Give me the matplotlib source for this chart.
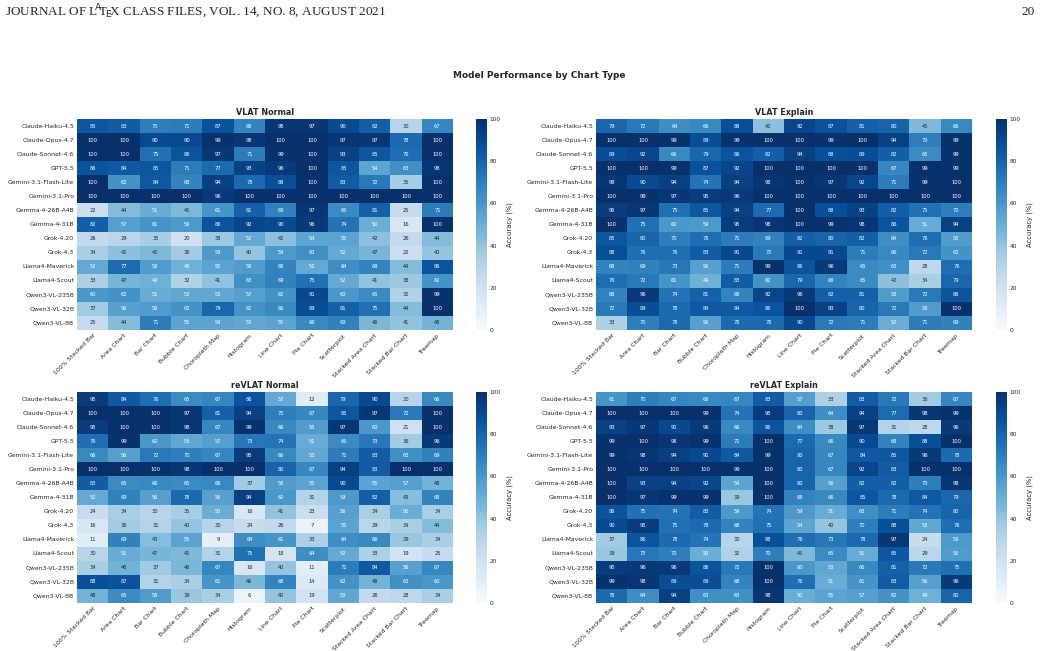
import numpy as np
import pandas as pd
import matplotlib
matplotlib.use("Agg")
import matplotlib.pyplot as plt
import seaborn as sns

models = ["Claude-Haiku-4.5", "Claude-Opus-4.7", "Claude-Sonnet-4.6", "GPT-5.5",
          "Gemini-3.1-Flash-Lite", "Gemini-3.1-Pro", "Gemma-4-26B-A4B", "Gemma-4-31B",
          "Grok-4.20", "Grok-4.3", "Llama4-Maverick", "Llama4-Scout",
          "Qwen3-VL-235B", "Qwen3-VL-32B", "Qwen3-VL-8B"]
chart_types = ["100% Stacked Bar", "Area Chart", "Bar Chart", "Bubble Chart",
               "Choropleth Map", "Histogram", "Line Chart", "Pie Chart",
               "Scatterplot", "Stacked Area Chart", "Stacked Bar Chart", "Treemap"]

vlat_normal = [
    [85, 83, 70, 71, 87, 68, 98, 97, 90, 82, 30, 67],
    [100, 100, 90, 90, 99, 98, 100, 100, 97, 97, 78, 100],
    [100, 100, 75, 86, 97, 71, 99, 100, 93, 85, 76, 100],
    [86, 84, 85, 71, 77, 93, 96, 100, 85, 54, 63, 98],
    [100, 62, 84, 68, 94, 78, 88, 100, 83, 72, 35, 100],
    [100, 100, 100, 100, 96, 100, 100, 100, 100, 100, 100, 100],
    [22, 44, 51, 45, 61, 81, 69, 97, 65, 81, 25, 71],
    [82, 57, 61, 59, 86, 92, 90, 96, 74, 50, 16, 100],
    [26, 29, 35, 20, 38, 52, 42, 54, 55, 42, 26, 44],
    [34, 42, 45, 36, 59, 40, 59, 63, 52, 47, 22, 40],
    [52, 77, 58, 49, 55, 58, 68, 52, 64, 68, 44, 86],
    [33, 47, 49, 32, 41, 63, 69, 75, 52, 41, 38, 62],
    [60, 62, 51, 53, 53, 57, 62, 91, 60, 65, 32, 99],
    [37, 56, 58, 62, 79, 62, 66, 89, 81, 75, 44, 100],
    [25, 44, 71, 55, 54, 53, 55, 66, 69, 46, 41, 48],
]
vlat_explain = [
    [79, 72, 64, 66, 88, 42, 92, 87, 81, 80, 45, 66],
    [100, 100, 99, 89, 99, 100, 100, 99, 100, 94, 70, 99],
    [89, 92, 66, 79, 86, 82, 94, 88, 89, 82, 65, 99],
    [100, 100, 99, 87, 92, 100, 100, 100, 100, 67, 99, 99],
    [98, 90, 94, 74, 94, 98, 100, 97, 92, 71, 99, 100],
    [100, 99, 97, 95, 96, 100, 100, 100, 100, 100, 100, 100],
    [95, 97, 75, 85, 94, 77, 100, 88, 93, 82, 75, 70],
    [100, 75, 60, 59, 95, 98, 100, 99, 98, 86, 51, 94],
    [85, 80, 70, 76, 71, 69, 82, 80, 82, 64, 76, 58],
    [88, 76, 76, 83, 91, 72, 91, 91, 71, 66, 72, 62],
    [68, 69, 73, 56, 71, 99, 86, 96, 65, 63, 28, 76],
    [76, 72, 61, 49, 83, 62, 79, 68, 65, 42, 34, 79],
    [68, 96, 74, 81, 68, 92, 96, 82, 81, 58, 72, 86],
    [72, 89, 78, 84, 84, 86, 100, 93, 80, 72, 58, 100],
    [33, 70, 78, 56, 78, 78, 90, 72, 71, 50, 71, 69],
]
revlat_normal = [
    [95, 84, 76, 65, 67, 86, 52, 12, 79, 90, 30, 66],
    [100, 100, 100, 97, 81, 94, 70, 67, 85, 97, 72, 100],
    [95, 100, 100, 98, 67, 99, 66, 58, 97, 60, 21, 100],
    [76, 99, 60, 53, 57, 73, 74, 51, 65, 73, 36, 96],
    [66, 56, 72, 70, 67, 95, 66, 53, 71, 83, 63, 69],
    [100, 100, 100, 98, 100, 100, 80, 67, 94, 83, 100, 100],
    [83, 65, 66, 65, 66, 37, 58, 55, 90, 55, 57, 48],
    [52, 69, 56, 78, 56, 94, 60, 31, 59, 82, 43, 68],
    [24, 34, 30, 35, 50, 16, 41, 23, 56, 34, 50, 34],
    [16, 36, 31, 40, 30, 24, 26, 7, 55, 29, 34, 44],
    [11, 69, 43, 55, 9, 64, 61, 33, 64, 66, 39, 34],
    [30, 51, 47, 45, 31, 75, 18, 64, 52, 33, 19, 25],
    [34, 48, 37, 46, 67, 16, 40, 11, 71, 84, 56, 67],
    [88, 87, 31, 34, 61, 46, 68, 14, 62, 48, 63, 60],
    [48, 65, 58, 39, 34, 6, 40, 19, 53, 26, 28, 34],
]
revlat_explain = [
    [61, 70, 67, 66, 67, 83, 57, 33, 83, 72, 36, 67],
    [100, 100, 100, 99, 74, 95, 80, 64, 94, 77, 98, 99],
    [93, 97, 91, 96, 66, 86, 64, 38, 97, 31, 28, 96],
    [99, 100, 98, 99, 71, 100, 77, 66, 90, 68, 88, 100],
    [99, 98, 94, 91, 84, 99, 80, 67, 84, 85, 96, 78],
    [100, 100, 100, 100, 99, 100, 80, 67, 92, 83, 100, 100],
    [100, 93, 94, 92, 54, 100, 80, 56, 82, 82, 70, 98],
    [100, 97, 99, 99, 39, 100, 68, 66, 85, 78, 84, 79],
    [86, 75, 74, 83, 59, 74, 59, 51, 63, 71, 74, 80],
    [90, 95, 75, 78, 68, 75, 54, 40, 70, 88, 53, 76],
    [37, 86, 78, 74, 30, 88, 76, 73, 78, 97, 24, 59],
    [39, 73, 70, 50, 32, 70, 45, 65, 51, 85, 29, 58],
    [95, 96, 96, 86, 72, 100, 60, 53, 66, 81, 72, 75],
    [99, 98, 89, 89, 68, 100, 76, 51, 61, 83, 56, 96],
    [78, 64, 94, 63, 63, 98, 50, 55, 57, 62, 49, 80],
]

panel_titles = ["VLAT Normal", "VLAT Explain", "reVLAT Normal", "reVLAT Explain"]
panel_data = [vlat_normal, vlat_explain, revlat_normal, revlat_explain]

sns.set_theme(style="white")
plt.rcParams["font.family"] = ["DejaVu Sans"]

W, H = 1041, 651
fig = plt.figure(figsize=(W / 100, H / 100), dpi=100)

def box(x0, y0, x1, y1):
    return [x0 / W, 1 - y1 / H, (x1 - x0) / W, (y1 - y0) / H]

hm_boxes = [(77, 119, 453, 330), (596, 119, 972, 330),
            (77, 392, 453, 603), (596, 392, 972, 603)]
cb_boxes = [(476, 119, 487, 330), (996, 119, 1007, 330),
            (476, 392, 487, 603), (996, 392, 1007, 603)]

for title, data, hb, cb in zip(panel_titles, panel_data, hm_boxes, cb_boxes):
    ax = fig.add_axes(box(*hb))
    cax = fig.add_axes(box(*cb))
    df = pd.DataFrame(np.array(data), index=models, columns=chart_types)
    sns.heatmap(df, ax=ax, cbar_ax=cax, cmap="Blues", vmin=0, vmax=100,
                annot=True, fmt="d", annot_kws={"fontsize": 3.7},
                xticklabels=True, yticklabels=True,
                cbar_kws={"label": "Accuracy (%)"})
    ax.set_title(title, fontsize=5.8, fontweight="bold", pad=3)
    ax.tick_params(axis="both", length=0, labelsize=4.4, pad=2)
    ax.set_xticklabels(ax.get_xticklabels(), rotation=45, ha="right",
                       rotation_mode="anchor")
    ax.set_yticklabels(ax.get_yticklabels(), rotation=0)
    cax.tick_params(length=0, labelsize=4.2, pad=2)
    cax.set_yticks([0, 20, 40, 60, 80, 100])
    cax.yaxis.label.set_size(4.9)

fig.text(539 / W, 1 - 75 / H, "Model Performance by Chart Type",
         ha="center", va="center", fontsize=6.5, fontweight="bold")

fig.text(5 / W, 1 - 12 / H,
         r"JOURNAL OF L$^{\!\!\mathrm{A}}\!$T$_{\!\mathrm{E}}\!$X CLASS FILES, VOL. 14, NO. 8, AUGUST 2021",
         ha="left", va="center", fontsize=9.5, family="Liberation Serif")
fig.text(1035 / W, 1 - 12 / H, "20", ha="right", va="center",
         fontsize=9.5, family="Liberation Serif")

fig.savefig("out.png", dpi=100)
